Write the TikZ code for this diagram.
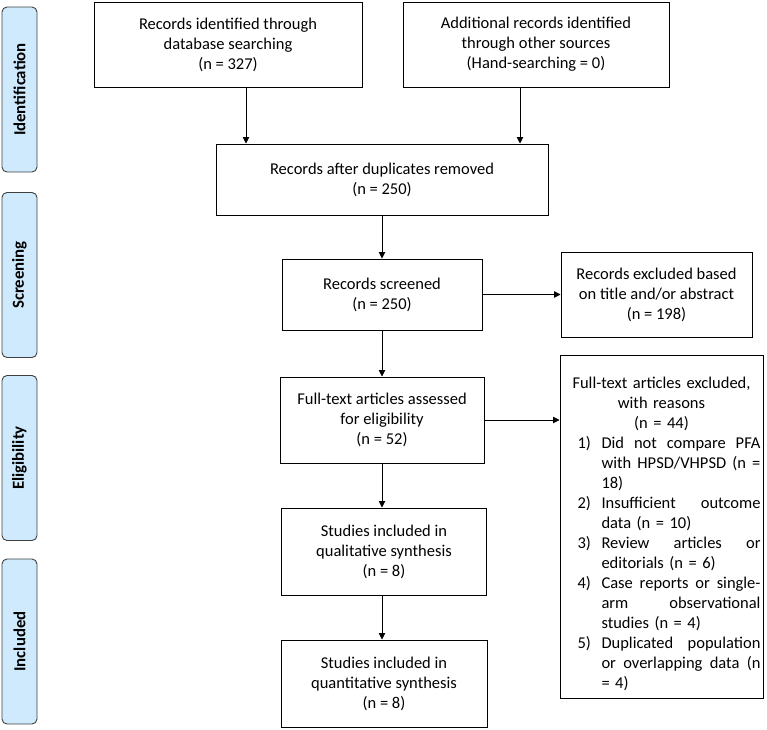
\documentclass[tikz,border=0pt]{standalone}
\usepackage{fontspec}
\setmainfont{Carlito}
\usepackage{tikz}
\usetikzlibrary{arrows.meta,positioning}
\definecolor{PhaseBG}{HTML}{CFEAFD}
\definecolor{PhaseFrame}{HTML}{404040}
\newcommand{\exitem}[2]{\hspace*{15pt}\makebox[24pt][l]{#1}%
  \hbox to 159pt{\spaceskip=\fontdimen2\font plus 1fil\relax #2}\hspace*{5pt}}
\newcommand{\exrest}[2]{\hspace*{15pt}\makebox[24pt][l]{#1}\makebox[159pt][l]{#2}\hspace*{5pt}}

\begin{document}
\begin{tikzpicture}[x=1pt, y=-1pt,
  box/.style={draw, line width=1pt, inner sep=0pt, align=center,
              font=\fontsize{16.5}{20}\selectfont},
  phase/.style={draw=PhaseFrame, line width=0.9pt, fill=PhaseBG, rounded corners=5pt,
                rotate=90, minimum width=165pt, minimum height=35pt, inner sep=0pt,
                font=\fontsize{16.8}{20}\selectfont\bfseries},
  >={Triangle[length=6.5pt,width=6.5pt]}, line width=0.9pt]
  \useasboundingbox (0,0) rectangle (767,729);
  % phase labels
  \node[phase] (id)  at (19.5, 89.5)  {Identification};
  \node[phase] (scr) at (19.5, 275)   {Screening};
  \node[phase] (eli) at (19.5, 458)   {Eligibility};
  \node[phase] (inc) at (19.5, 641.5) {Included};
  % flow boxes
  \node[box, minimum width=268pt, minimum height=85pt] (db) at (228, 44.5)
    {Records identified through\\ database searching\\ (n = 327)};
  \node[box, minimum width=266pt, minimum height=85pt] (oth) at (536, 44.5)
    {Additional records identified\\ through other sources\\ (Hand-searching = 0)};
  \node[box, minimum width=332pt, minimum height=71pt] (dup) at (382, 179.5)
    {Records after duplicates removed\\ (n = 250)};
  \node[box, minimum width=200pt, minimum height=71pt] (scrd) at (382, 294.5)
    {Records screened\\ (n = 250)};
  \node[box, minimum width=191pt, minimum height=85pt] (exc) at (656.5, 294.5)
    {Records excluded based\\ on title and/or abstract\\ (n = 198)};
  \node[box, minimum width=204pt, minimum height=86pt] (full) at (382, 420)
    {Full-text articles assessed\\ for eligibility\\ (n = 52)};
  \node[box, minimum width=205pt, minimum height=87pt] (qual) at (384, 551.5)
    {Studies included in\\ qualitative synthesis\\ (n = 8)};
  \node[box, minimum width=206pt, minimum height=87pt] (quan) at (384, 683.5)
    {Studies included in\\ quantitative synthesis\\ (n = 8)};
  \node[box, text width=203pt, minimum height=343pt] (fexc) at (661.5, 526.5)
    {\rule{0pt}{27pt}Full-text articles excluded,\\ with reasons\\ (n = 44)\\
     \exitem{1)}{Did not compare PFA}\\
     \exitem{}{with HPSD/VHPSD (n =}\\
     \exrest{}{18)}\\
     \exitem{2)}{Insufficient outcome}\\
     \exrest{}{data (n = 10)}\\
     \exitem{3)}{Review articles or}\\
     \exrest{}{editorials (n = 6)}\\
     \exitem{4)}{Case reports or single-}\\
     \exitem{}{arm observational}\\
     \exrest{}{studies (n = 4)}\\
     \exitem{5)}{Duplicated population}\\
     \exitem{}{or overlapping data (n}\\
     \exrest{}{= 4)}};
  % arrows
  \draw[->] ([xshift=18pt]db.south) -- ([xshift=18pt]db.south |- dup.north);
  \draw[->] ([xshift=-16pt]oth.south) -- ([xshift=-16pt]oth.south |- dup.north);
  \draw[->] (dup.south) -- (dup.south |- scrd.north);
  \draw[->] (scrd.east) -- (scrd.east -| exc.west);
  \draw[->] (scrd.south) -- (scrd.south |- full.north);
  \draw[->] (full.east) -- (full.east -| fexc.west);
  \draw[->] (full.south) -- (full.south |- qual.north);
  \draw[->] (full.south |- qual.south) -- (full.south |- quan.north);
\end{tikzpicture}
\end{document}
